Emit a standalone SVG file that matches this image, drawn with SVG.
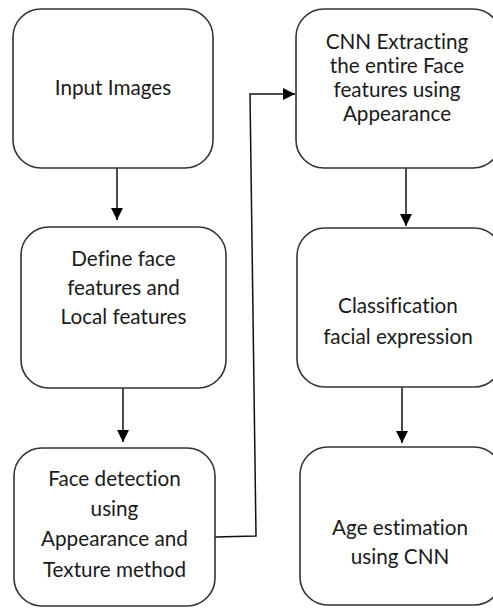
<svg xmlns="http://www.w3.org/2000/svg" width="493" height="608" viewBox="0 0 493 608">
<defs>
<marker id="arr" markerUnits="userSpaceOnUse" markerWidth="12" markerHeight="12" viewBox="0 0 12 12" refX="12" refY="6" orient="auto">
<path d="M0,0 L12,6 L0,12 Z" fill="#000"/>
</marker>
<style>
.box{fill:#fff;stroke:#333;stroke-width:1.6}
.t{font-family:Lato,"Liberation Sans",sans-serif;font-size:20.7px;fill:#1a1a1a;text-anchor:middle;font-variant-ligatures:none}
.c{fill:none;stroke:#111;stroke-width:1.5}
</style>
</defs>
<rect width="493" height="608" fill="#fff"/>
<g id="connectors">
<path class="c" d="M117,168 V220" marker-end="url(#arr)"/>
<path class="c" d="M123,388 V442" marker-end="url(#arr)"/>
<path class="c" d="M215,537 L256,536 L250,94 H295" marker-end="url(#arr)"/>
<path class="c" d="M406,168 V226" marker-end="url(#arr)"/>
<path class="c" d="M402,387 V443" marker-end="url(#arr)"/>
</g>
<g id="n1">
<rect class="box" x="13" y="9" width="200" height="159" rx="28"/>
<text class="t" x="113" y="95">Input Images</text>
</g>
<g id="n2">
<rect class="box" x="21" y="227" width="205" height="161" rx="28"/>
<text class="t" x="123.5" y="266">Define face</text>
<text class="t" x="123.5" y="295">features and</text>
<text class="t" x="123.5" y="324">Local features</text>
</g>
<g id="n3">
<rect class="box" x="14" y="448" width="201" height="158" rx="28"/>
<text class="t" x="114.5" y="486">Face detection</text>
<text class="t" x="114.5" y="516">using</text>
<text class="t" x="114.5" y="546">Appearance and</text>
<text class="t" x="114.5" y="577">Texture method</text>
</g>
<g id="n4">
<rect class="box" x="296" y="9" width="205" height="159" rx="28"/>
<text class="t" x="397" y="49">CNN Extracting</text>
<text class="t" x="397" y="73">the entire Face</text>
<text class="t" x="397" y="97">features using</text>
<text class="t" x="397" y="121">Appearance</text>
</g>
<g id="n5">
<rect class="box" x="297" y="228" width="205" height="159" rx="28"/>
<text class="t" x="398" y="313">Classification</text>
<text class="t" x="398" y="344">facial expression</text>
</g>
<g id="n6">
<rect class="box" x="300" y="447" width="202" height="158" rx="28"/>
<text class="t" x="400" y="535">Age estimation</text>
<text class="t" x="400" y="564">using CNN</text>
</g>
</svg>
